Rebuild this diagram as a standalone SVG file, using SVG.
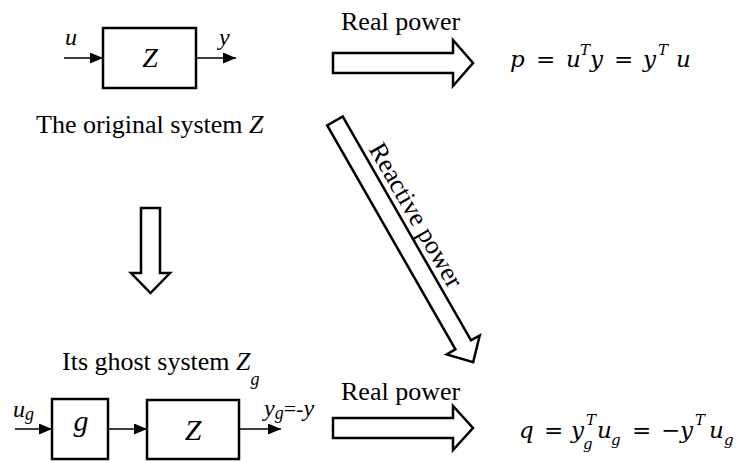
<svg xmlns="http://www.w3.org/2000/svg" width="745" height="462" viewBox="0 0 745 462">
<defs>
<style>
.box{fill:#fff;stroke:#000;stroke-width:2.5}
.ln{stroke:#000;stroke-width:1.5;fill:none}
.big{fill:#fff;stroke:#000;stroke-width:2.5;stroke-linejoin:miter}
</style>
<marker id="ah" viewBox="0 0 13 11" refX="13" refY="5.5" markerWidth="13" markerHeight="11" markerUnits="userSpaceOnUse" orient="auto">
<path d="M0,0 L13,5.5 L0,11 z" fill="#000"/>
</marker>
</defs>
<rect width="745" height="462" fill="#fff"/>

<g id="original-system" font-family="Liberation Serif, serif" fill="#000">
<rect class="box" x="103" y="28" width="93" height="60"/>
<text x="150" y="67" text-anchor="middle" font-size="28" font-style="italic">Z</text>
<text x="65" y="45" font-size="24" font-style="italic">u</text>
<text x="219" y="45" font-size="24" font-style="italic">y</text>
<text x="36" y="133" font-size="26">The original system <tspan font-style="italic">Z</tspan></text>
</g>

<g id="ghost-system" font-family="Liberation Serif, serif" fill="#000">
<text x="62" y="370" font-size="26">Its ghost system <tspan font-style="italic">Z</tspan><tspan font-style="italic" font-size="18" dy="15">g</tspan></text>
<rect class="box" x="52" y="399" width="56" height="60"/>
<text x="81" y="431" text-anchor="middle" font-size="30" font-style="italic">g</text>
<rect class="box" x="147" y="400" width="92" height="59"/>
<text x="193" y="440" text-anchor="middle" font-size="30" font-style="italic">Z</text>
<text x="13" y="417" font-size="24" font-style="italic">u<tspan font-size="18" dy="3">g</tspan></text>
<text x="264" y="416" font-size="24"><tspan font-style="italic">y</tspan><tspan font-style="italic" font-size="18" dy="3">g</tspan><tspan dy="-3" font-size="22">=-</tspan><tspan font-style="italic">y</tspan></text>
</g>

<g id="real-power-top" font-family="Liberation Serif, serif" fill="#000">
<text x="341" y="30" font-size="26">Real power</text>
</g>
<g id="real-power-bottom" font-family="Liberation Serif, serif" fill="#000">
<text x="341" y="400" font-size="26">Real power</text>
</g>

<g id="formula-p" font-family="DejaVu Serif, serif" fill="#000">
<text font-size="23" font-style="italic"><tspan x="510" y="67">p</tspan><tspan font-style="normal" x="536" y="67">=</tspan><tspan x="566" y="67">u</tspan><tspan font-size="15" x="580" y="55">T</tspan><tspan x="590" y="67">y</tspan><tspan font-style="normal" x="614" y="67">=</tspan><tspan x="643" y="67">y</tspan><tspan font-size="15" x="658" y="55">T</tspan><tspan x="676" y="67">u</tspan></text>
</g>

<g id="formula-q" font-family="DejaVu Serif, serif" fill="#000">
<text font-size="23" font-style="italic"><tspan x="519" y="438">q</tspan><tspan font-style="normal" x="544" y="438">=</tspan><tspan x="571" y="438">y</tspan><tspan font-size="15" x="586" y="425">T</tspan><tspan font-size="15" x="583" y="449">g</tspan><tspan x="597" y="438">u</tspan><tspan font-size="15" x="611" y="445">g</tspan><tspan font-style="normal" x="632" y="438">=</tspan><tspan font-style="normal" x="661" y="438">−</tspan><tspan x="680" y="438">y</tspan><tspan font-size="15" x="695" y="425">T</tspan><tspan x="709" y="438">u</tspan><tspan font-size="15" x="724" y="445">g</tspan></text>
</g>

<g id="connectors">
<line class="ln" x1="64" y1="58" x2="103" y2="58" marker-end="url(#ah)"/>
<line class="ln" x1="196" y1="58" x2="236" y2="58" marker-end="url(#ah)"/>
<line class="ln" x1="15" y1="429" x2="52" y2="429" marker-end="url(#ah)"/>
<line class="ln" x1="108" y1="429" x2="147" y2="429" marker-end="url(#ah)"/>
<line class="ln" x1="239" y1="429" x2="281" y2="429" marker-end="url(#ah)"/>
<polygon class="big" points="333,53 453,53 453,40 473,63 453,86 453,73 333,73"/>
<polygon class="big" points="333,418 453,418 453,406 473,428 453,450 453,438 333,438"/>
<polygon class="big" points="141,208 160,208 160,273 170,273 150.5,293 131,273 141,273"/>
<g transform="translate(335,121) rotate(60.2)">
<polygon class="big" points="0,-9 258,-9 258,-19 278,0 258,19 258,9 0,9"/>
<text x="122" y="-15" text-anchor="middle" font-family="Liberation Serif, serif" font-size="26" fill="#000">Reactive power</text>
</g>
</g>
</svg>
